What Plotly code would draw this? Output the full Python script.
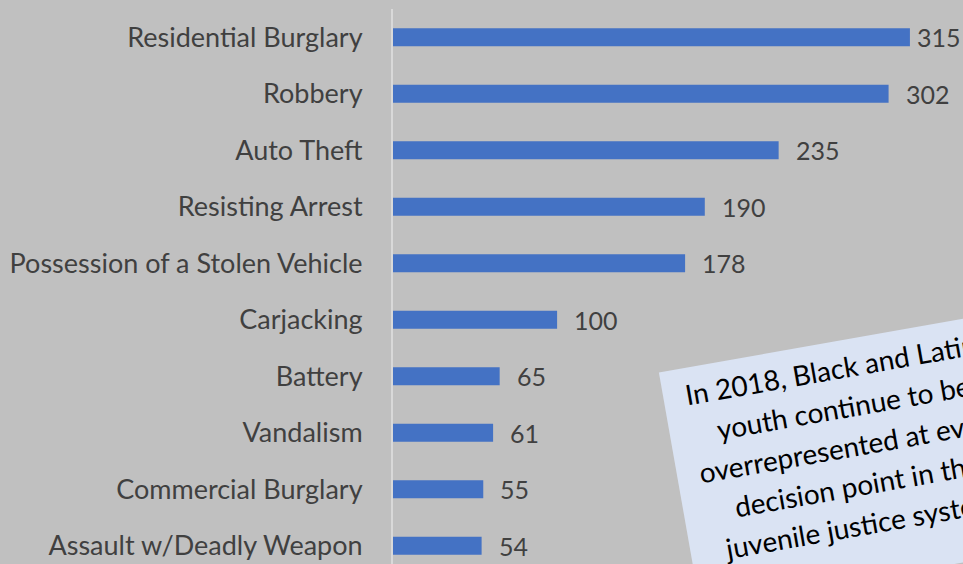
import math
import plotly.graph_objects as go

# Offense categories and counts, top to bottom
categories = [
    "Residential Burglary",
    "Robbery",
    "Auto Theft",
    "Resisting Arrest",
    "Possession of a Stolen Vehicle",
    "Carjacking",
    "Battery",
    "Vandalism",
    "Commercial Burglary",
    "Assault w/Deadly Weapon",
]
counts = [315, 302, 235, 190, 178, 100, 65, 61, 55, 54]

callout_lines = [
    "In 2018, Black and Latinx",
    "youth continue to be",
    "overrepresented at every",
    "decision point in the",
    "juvenile justice system.",
]

BG = "#c0c0c0"
BAR = "#4472c4"
TXT = "#404040"
FONT = "Lato"

W, H = 963, 564
ML, MT = 393, 9
plot_w = W - ML
plot_h = H - MT
px_per_unit = 1.641
x_max = plot_w / px_per_unit
row_px = 56.5
y_bottom = (H - MT) / row_px - 0.5


def to_paper(px, py):
    return (px - ML) / plot_w, 1 - (py - MT) / plot_h


fig = go.Figure()
fig.add_trace(go.Bar(
    x=counts,
    y=list(range(len(categories))),
    orientation="h",
    marker=dict(color=BAR, line=dict(width=0)),
    width=0.32,
    hoverinfo="skip",
))

# value labels just past each bar end
max_v = max(counts)
for i, v in enumerate(counts):
    shift = 5 if v == max_v else 15
    fig.add_annotation(
        x=v, y=i, xref="x", yref="y", text=str(v), showarrow=False,
        xanchor="left", yanchor="middle", xshift=shift,
        font=dict(family=FONT, size=25, color=TXT),
    )

# rotated callout: tilted background panel plus one tilted annotation per line
angle = 10.0
ca, sa = math.cos(math.radians(angle)), math.sin(math.radians(angle))
corner = (659.0, 372.0)          # top-left corner of the panel, in page pixels
box_w, box_h = 352.0, 240.0
line_gap, first_line = 39.5, 27.0


def local_to_page(u, v):
    return (corner[0] + u * ca + v * sa, corner[1] - u * sa + v * ca)


bx, by = to_paper(*local_to_page(box_w / 2, box_h / 2))
fig.add_annotation(
    xref="paper", yref="paper", x=bx, y=by, xanchor="center", yanchor="middle",
    text=" ", showarrow=False, textangle=-angle, width=box_w, height=box_h,
    bgcolor="#dae3f3", borderpad=0, borderwidth=0,
    font=dict(family=FONT, size=10, color="#dae3f3"),
)
for k, line in enumerate(callout_lines):
    lx, ly = to_paper(*local_to_page(box_w / 2, first_line + k * line_gap))
    fig.add_annotation(
        xref="paper", yref="paper", x=lx, y=ly, xanchor="center", yanchor="middle",
        text=line, showarrow=False, textangle=-angle,
        font=dict(family=FONT, size=28, color="#000000"),
    )

fig.update_layout(
    width=W, height=H,
    margin=dict(l=ML, r=0, t=MT, b=0),
    paper_bgcolor=BG, plot_bgcolor=BG,
    showlegend=False,
    xaxis=dict(range=[0, x_max], showgrid=False, zeroline=False,
               showticklabels=False, showline=False, fixedrange=True),
    yaxis=dict(range=[y_bottom, -0.5], tickmode="array",
               tickvals=list(range(len(categories))), ticktext=categories,
               showgrid=False, zeroline=False, showline=True,
               linecolor="#d9d9d9", linewidth=2, ticks="",
               ticklabelstandoff=23,
               tickfont=dict(family=FONT, size=27, color=TXT)),
)

fig.write_html("out.html", config={"displayModeBar": False})
